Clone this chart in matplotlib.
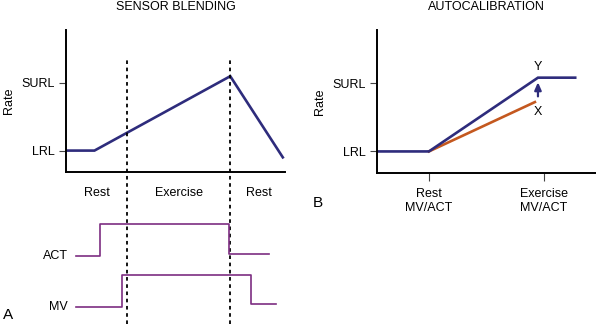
import matplotlib.pyplot as plt

plt.rcParams['font.family'] = ['Liberation Sans', 'DejaVu Sans']
plt.rcParams['font.size'] = 9

NAVY = '#2e2c7c'
ORANGE = '#c4581f'
PURPLE = '#7d2e82'

LRL, SURL = 60, 120
rate_ylim = (41, 167)

# Panel A: blended rate over time
blend_t = [0, 13, 75, 99]
blend_rate = [60, 60, 126, 54]
phase_bounds = [28, 75]
phase_pos = [14, 51.5, 88]
phase_labels = ['Rest', 'Exercise', 'Rest']

# Sensor traces (step signals)
act_t = [4.6, 15.5, 15.5, 74.6, 74.6, 92.7]
act_v = [1.6, 1.6, 2.6, 2.6, 1.66, 1.66]
mv_t = [4.6, 25.6, 25.6, 84.5, 84.5, 95.9]
mv_v = [0.0, 0.0, 1.0, 1.0, 0.09, 0.09]

# Panel B: autocalibration
cal_x = [0, 23.7, 73.5, 90.5]
cal_rate = [60, 60, 125, 125]
uncal_x = [23.7, 72.1]
uncal_rate = [60, 103.5]
arrow_x = 73.5
arrow_from, arrow_to = 108.5, 121
cal_ticks = [23.7, 76.3]
cal_labels = ['Rest\nMV/ACT', 'Exercise\nMV/ACT']

W, H = 596, 324
fig = plt.figure(figsize=(W / 100, H / 100), dpi=100)


def px_axes(x0, y0, x1, y1):
    return fig.add_axes([x0 / W, 1 - y1 / H, (x1 - x0) / W, (y1 - y0) / H])


def style_rate_axes(ax):
    for s in ['top', 'right']:
        ax.spines[s].set_visible(False)
    for s in ['left', 'bottom']:
        ax.spines[s].set_linewidth(1.4)
    ax.set_ylim(*rate_ylim)
    ax.set_yticks([LRL, SURL], ['LRL', 'SURL'])
    ax.tick_params(axis='y', length=5, width=0.8, color='#444444', pad=3, labelsize=9)
    ax.set_ylabel('Rate', fontsize=9)
    ax.yaxis.set_label_coords(-0.235, 0.5)


# --- A ---
axA = px_axes(66, 30, 285, 172)
axA.plot(blend_t, blend_rate, color=NAVY, lw=1.9, solid_joinstyle='miter')
axA.set_xlim(0, 100)
style_rate_axes(axA)
axA.set_xticks(phase_pos, phase_labels)
axA.tick_params(axis='x', length=0, pad=11, labelsize=9)
for b in phase_bounds:
    axA.axvline(b, ymin=-1.07, ymax=0.79, color='black', lw=1.3,
                ls=(0, (2, 2)), clip_on=False)

axS = px_axes(66, 215, 285, 315)
axS.plot(act_t, act_v, color=PURPLE, lw=1.2)
axS.plot(mv_t, mv_v, color=PURPLE, lw=1.2)
axS.set_xlim(0, 100)
axS.set_ylim(-0.25, 2.875)
axS.axis('off')
axS.text(1.0, act_v[0], 'ACT', ha='right', va='center', fontsize=9)
axS.text(1.0, mv_v[0], 'MV', ha='right', va='center', fontsize=9)

fig.text(176 / W, 1 - 7 / H, 'SENSOR BLENDING', ha='center', va='center', fontsize=9)
fig.text(3 / W, 1 - 315 / H, 'A', ha='left', va='center', fontsize=11)

# --- B ---
axB = px_axes(377, 30, 596, 173)
axB.plot(uncal_x, uncal_rate, color=ORANGE, lw=1.9)
axB.plot(cal_x, cal_rate, color=NAVY, lw=1.9, solid_joinstyle='miter')
axB.set_xlim(0, 100)
style_rate_axes(axB)
axB.set_xticks(cal_ticks, cal_labels)
axB.tick_params(axis='x', length=6, width=0.8, color='#444444', pad=5, labelsize=9)
axB.annotate('', xy=(arrow_x, arrow_to), xytext=(arrow_x, arrow_from),
             arrowprops=dict(arrowstyle='-|>,head_length=0.5,head_width=0.22',
                             color=NAVY, lw=1.6, shrinkA=0, shrinkB=0))
axB.text(arrow_x, 134, 'Y', ha='center', va='center', fontsize=9)
axB.text(arrow_x, 95, 'X', ha='center', va='center', fontsize=9)

fig.text(486 / W, 1 - 7 / H, 'AUTOCALIBRATION', ha='center', va='center', fontsize=9)
fig.text(313 / W, 1 - 203 / H, 'B', ha='left', va='center', fontsize=11)

fig.savefig('out.png', dpi=100)
